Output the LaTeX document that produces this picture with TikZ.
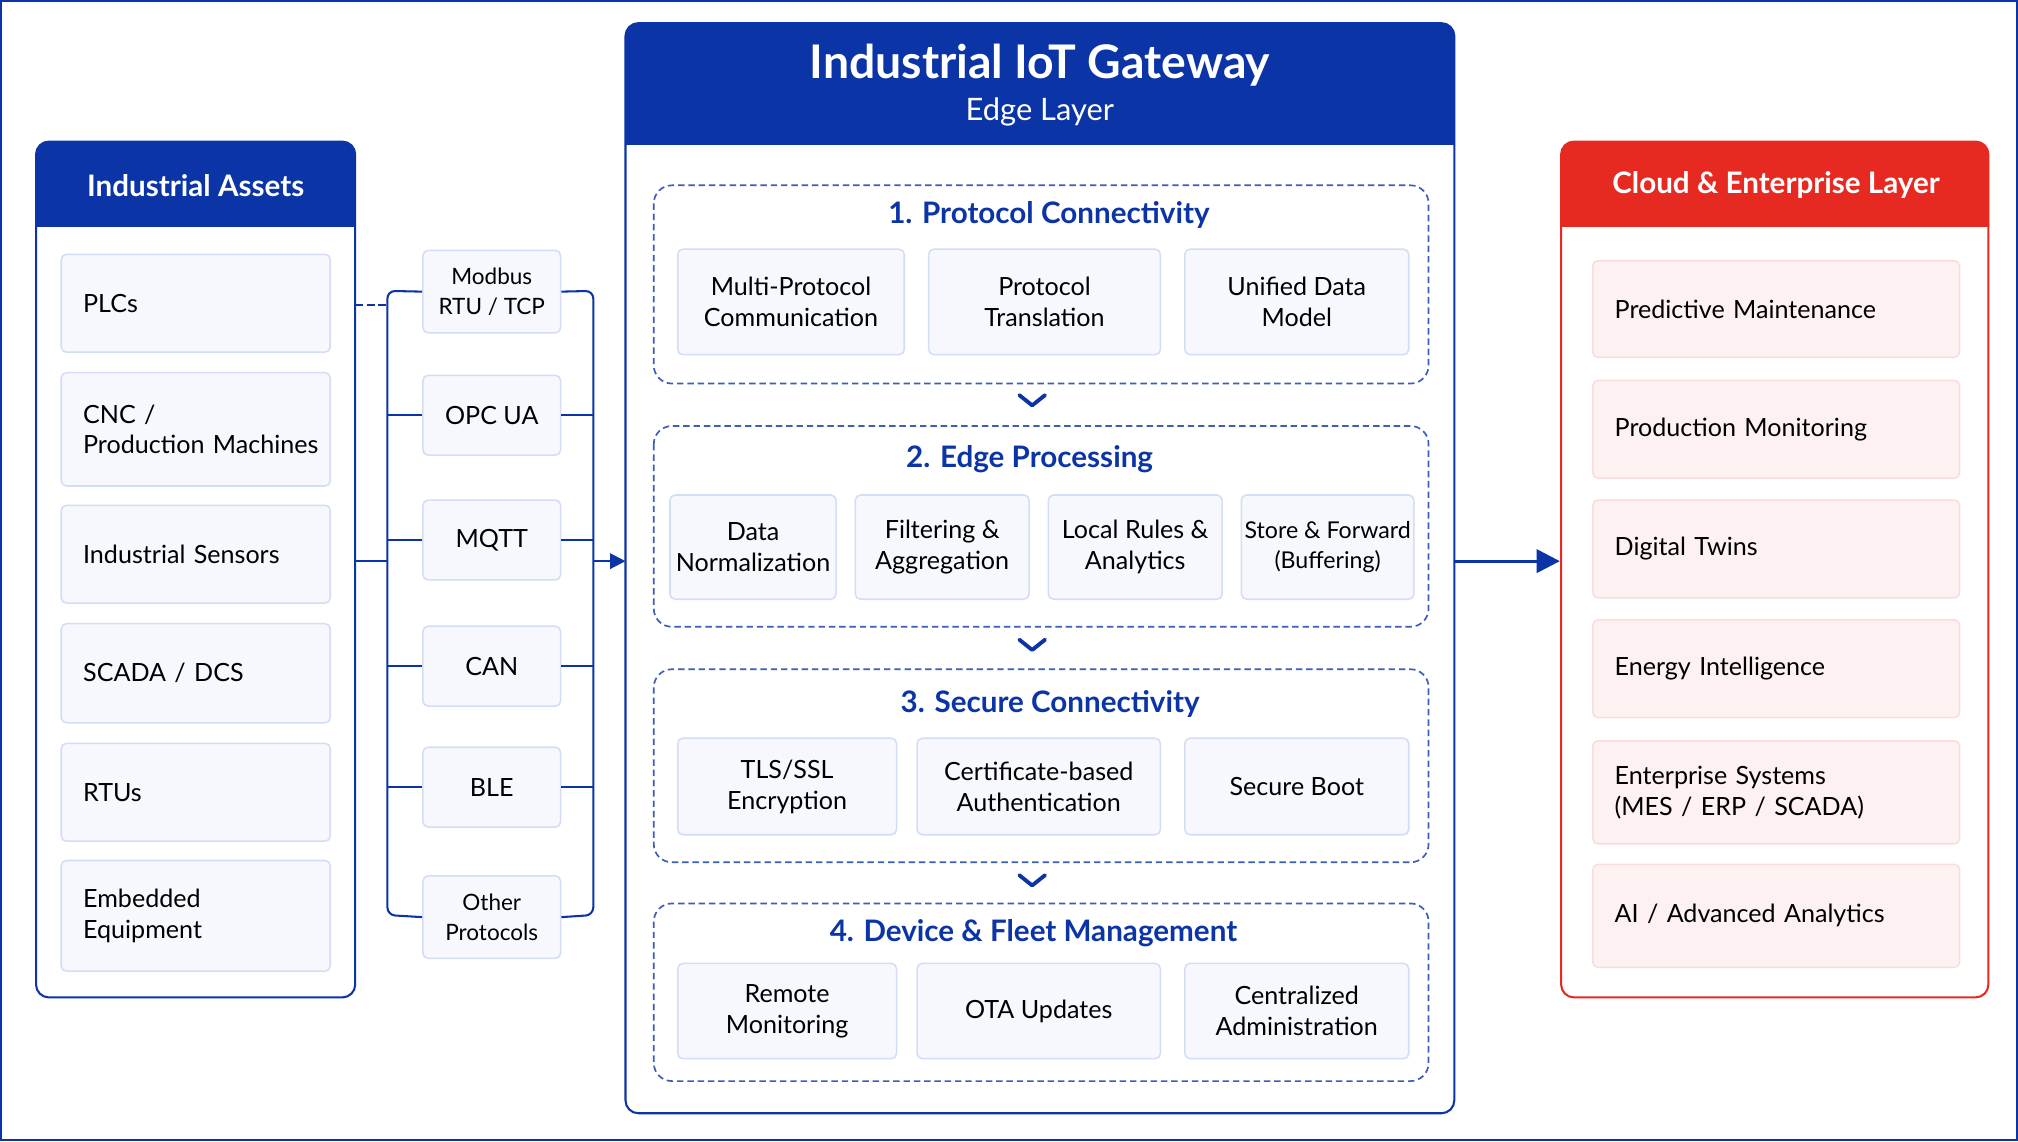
\documentclass[tikz,border=0pt]{standalone}
\usepackage{fontspec}
\setmainfont{Lato}
\usetikzlibrary{arrows.meta}
\definecolor{dblue}{HTML}{0B34A6}
\definecolor{lblue}{HTML}{F6F8FD}
\definecolor{bblue}{HTML}{D3DDF3}
\definecolor{dred}{HTML}{E62A22}
\definecolor{lred}{HTML}{FDF2F1}
\definecolor{bred}{HTML}{F7DEDC}
\hyphenpenalty=10000
\hbadness=10000
\hfuzz=50pt
\tikzset{
  itm/.style={draw=bblue,fill=lblue,line width=1.2pt,rounded corners=4pt,font=\fontsize{19.5}{24}\selectfont,align=center},
  ritm/.style={draw=bred,fill=lred,line width=1.2pt,rounded corners=4pt,font=\fontsize{19.5}{24}\selectfont},
  sec/.style={draw=dblue!80,dashed,line width=1.3pt,rounded corners=14pt,dash pattern=on 5pt off 3pt},
  stitle/.style={text=dblue,font=\bfseries\fontsize{23}{26}\selectfont},
  htitle/.style={text=white,font=\bfseries\fontsize{23}{26}\selectfont},
  bus/.style={draw=dblue,line width=1.6pt,rounded corners=6pt},
  chev/.style={draw=dblue,line width=3pt,line cap=round,line join=round},
}
\newcommand\bx[7]{\node[#6,anchor=north west,minimum width={(#4-#2)*1pt},minimum height={(#5-#3)*1pt},inner sep=0pt] (#1) at (#2,#3) {#7};}
\newcommand\lbx[7]{\node[#6,anchor=north west,align=left,text width={(#4-#2-34)*1pt},inner xsep=17pt,inner ysep=0pt,minimum height={(#5-#3)*1pt}] (#1) at (#2,#3) {#7};}
\begin{document}
\begin{tikzpicture}[x=1pt,y=-1pt]
\useasboundingbox (0,0) rectangle (1568,887);
\fill[white] (0,0) rectangle (1568,887);
\draw[dblue,line width=1.5pt] (1,1) rectangle (1567,886);
% Industrial assets panel
\begin{scope}
\clip[rounded corners=10pt] (28,110) rectangle (276,775);
\fill[dblue] (28,110) rectangle (276,176);
\end{scope}
\draw[dblue,line width=1.6pt,rounded corners=10pt] (28,110) rectangle (276,775);
\node[htitle] (ia) at (152,144) {Industrial Assets};
\lbx{a1}{47}{197}{256}{273}{itm}{PLCs}
\lbx{a2}{47}{289}{256}{377}{itm}{CNC /\\\mbox{Production Machines}}
\lbx{a3}{47}{392}{256}{468}{itm}{Industrial Sensors}
\lbx{a4}{47}{484}{256}{561}{itm}{SCADA / DCS}
\lbx{a5}{47}{577}{256}{653}{itm}{RTUs}
\lbx{a6}{47}{668}{256}{754}{itm}{Embedded\\Equipment}
% protocols
\bx{p1}{328}{194}{435}{258}{itm,font=\fontsize{17.5}{23}\selectfont}{Modbus\\RTU / TCP}
\bx{p2}{328}{291}{435}{353}{itm}{OPC UA}
\bx{p3}{328}{388}{435}{450}{itm}{MQTT}
\bx{p4}{328}{486}{435}{548}{itm}{CAN}
\bx{p5}{328}{580}{435}{642}{itm}{BLE}
\bx{p6}{328}{680}{435}{744}{itm,font=\fontsize{17.5}{23}\selectfont}{Other\\Protocols}
\coordinate (lb) at (301,436);
\coordinate (rb) at (461,436);
\draw[bus] (p1.west) -- (301,226) -- (301,711) -- (p6.west);
\draw[bus] (p1.east) -- (461,226) -- (461,711) -- (p6.east);
\foreach \i in {2,3,4,5}{
  \draw[dblue,line width=1.6pt] (p\i.west) -- (p\i.west -| lb);
  \draw[dblue,line width=1.6pt] (p\i.east) -- (p\i.east -| rb);
}
\draw[dblue,line width=1.6pt] (276,436) -- (lb);
\draw[dblue,line width=1.6pt,dashed,dash pattern=on 6pt off 3pt] (276,237) -- (301,237);
% gateway
\begin{scope}
\clip[rounded corners=10pt] (486,18) rectangle (1130,865);
\fill[dblue] (486,18) rectangle (1130,113);
\end{scope}
\draw[dblue,line width=1.6pt,rounded corners=10pt] (486,18) rectangle (1130,865);
\coordinate (gwl) at (486,436);
\coordinate (gwr) at (1130,436);
\draw[dblue,line width=1.6pt,-{Triangle[length=12pt,width=12pt]}] (rb) -- (gwl);
\node[text=white,font=\bfseries\fontsize{36}{40}\selectfont] (gt) at (808,51) {Industrial IoT Gateway};
\node[text=white,font=\fontsize{24}{28}\selectfont] (gs) at (808,87) {Edge Layer};
% sections
\draw[sec] (508,144) rectangle (1110,298);
\node[stitle] (s1) at (815,167) {1. Protocol Connectivity};
\bx{b11}{526}{193}{702}{275}{itm}{Multi-Protocol\\Communication}
\bx{b12}{721}{193}{901}{275}{itm}{Protocol\\Translation}
\bx{b13}{920}{193}{1094}{275}{itm}{Unified Data\\Model}
\draw[chev] (792,307) -- (802,315) -- (812,307);
\draw[sec] (508,331) rectangle (1110,487);
\node[stitle] (s2) at (800,357) {2. Edge Processing};
\bx{b21}{520}{384}{649}{465}{itm}{Data\\Normalization}
\bx{b22}{664}{384}{799}{465}{itm}{Filtering \&\\Aggregation}
\bx{b23}{814}{384}{949}{465}{itm}{Local Rules \&\\Analytics}
\bx{b24}{964}{384}{1098}{465}{itm,font=\fontsize{18}{24}\selectfont}{Store \& Forward\\(Buffering)}
\draw[chev] (792,497) -- (802,505) -- (812,497);
\draw[sec] (508,520) rectangle (1110,670);
\node[stitle] (s3) at (816,547) {3. Secure Connectivity};
\bx{b31}{526}{573}{696}{648}{itm}{TLS/SSL\\Encryption}
\bx{b32}{712}{573}{901}{648}{itm}{Certificate-based\\Authentication}
\bx{b33}{920}{573}{1094}{648}{itm}{Secure Boot}
\draw[chev] (792,680) -- (802,688) -- (812,680);
\draw[sec] (508,702) rectangle (1110,840);
\node[stitle] (s4) at (803,725) {4. Device \& Fleet Management};
\bx{b41}{526}{748}{696}{822}{itm}{Remote\\Monitoring}
\bx{b42}{712}{748}{901}{822}{itm}{OTA Updates}
\bx{b43}{920}{748}{1094}{822}{itm}{Centralized\\Administration}
% cloud
\begin{scope}
\clip[rounded corners=10pt] (1213,110) rectangle (1545,775);
\fill[dred] (1213,110) rectangle (1545,176);
\end{scope}
\draw[dred,line width=1.6pt,rounded corners=10pt] (1213,110) rectangle (1545,775);
\coordinate (cl) at (1212,436);
\draw[dblue,line width=2.5pt,-{Triangle[length=18pt,width=18pt]}] (gwr) -- (cl);
\node[htitle] (ct) at (1380,144) {Cloud \& Enterprise Layer};
\lbx{c1}{1237}{202}{1522}{277}{ritm}{Predictive Maintenance}
\lbx{c2}{1237}{295}{1522}{371}{ritm}{Production Monitoring}
\lbx{c3}{1237}{388}{1522}{464}{ritm}{Digital Twins}
\lbx{c4}{1237}{481}{1522}{557}{ritm}{Energy Intelligence}
\lbx{c5}{1237}{575}{1522}{655}{ritm}{Enterprise Systems\\(MES / ERP / SCADA)}
\lbx{c6}{1237}{671}{1522}{751}{ritm}{AI / Advanced Analytics}
\end{tikzpicture}
\end{document}
